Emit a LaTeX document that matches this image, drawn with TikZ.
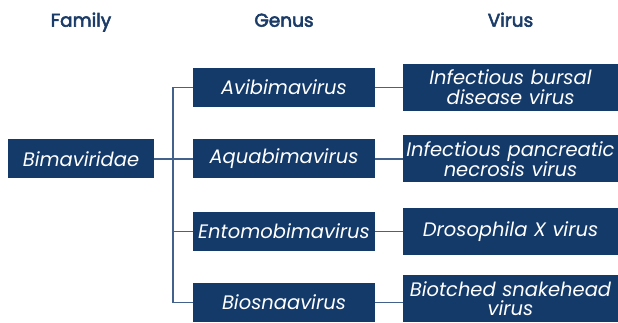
\documentclass[tikz,border=0pt]{standalone}
\usepackage{fontspec}
\setmainfont{Poppins}
\newfontfamily\headfont{Poppins}[FakeBold=3]
\usetikzlibrary{positioning}
\definecolor{boxblue}{RGB}{20,58,106}
\definecolor{linkblue}{RGB}{66,98,140}
\definecolor{headblue}{RGB}{27,60,104}

\begin{document}
\begin{tikzpicture}[x=1pt,y=-1pt,
  taxon/.style={fill=boxblue, text=white, inner sep=0pt, align=center,
    font=\fontsize{19.5}{20}\selectfont\itshape, minimum height=39pt},
  virusbox/.style={taxon, minimum width=215pt, minimum height=47pt, text width=213pt},
  link/.style={draw=linkblue, line width=1.5pt},
  head/.style={text=headblue, anchor=base, font=\fontsize{18.5}{20}\headfont}]
  \useasboundingbox (0,0) rectangle (618,323);

  % column headers
  \node[head] (hfam) at (81,26.7) {Family};
  \node[head] (hgen) at (284,26.7) {Genus};
  \node[head] (hvir) at (510.5,26.7) {Virus};

  % family, genera, viruses
  \node[taxon, minimum width=146pt] (bima) at (81,159) {Bimaviridae};
  \foreach \name/\y/\txt in {avi/87.5/Avibimavirus, aqua/159/Aquabimavirus,
      ento/231.5/Entomobimavirus, bios/302.5/Biosnaavirus} {
    \node[taxon, minimum width=182pt] (\name) at (284,\y) {\txt};
  }
  \node[virusbox] (ibdv) at (510.5,87.5) {Infectious bursal\\disease virus};
  \node[virusbox] (ipnv) at (510.5,159) {Infectious pancreatic\\necrosis virus};
  \node[virusbox] (dxv) at (510.5,231.5) {Drosophila X virus};
  \node[virusbox, font=\fontsize{19.5}{19}\selectfont\itshape] (bsnv) at (510.5,298.5)
    {Biotched snakehead\\virus};

  % tree
  \coordinate (fork) at (173,0);
  \draw[link] (avi.west) -- (avi.west -| fork) -- (bios.west -| fork) -- (bios.west);
  \draw[link] (bima.east) -- (aqua.west);
  \draw[link] (ento.west -| fork) -- (ento.west);
  \draw[link] (avi) -- (avi -| ibdv.west);
  \draw[link] (aqua) -- (aqua -| ipnv.west);
  \draw[link] (ento) -- (ento -| dxv.west);
  \draw[link] (bios) -- (bios -| bsnv.west);
\end{tikzpicture}
\end{document}
